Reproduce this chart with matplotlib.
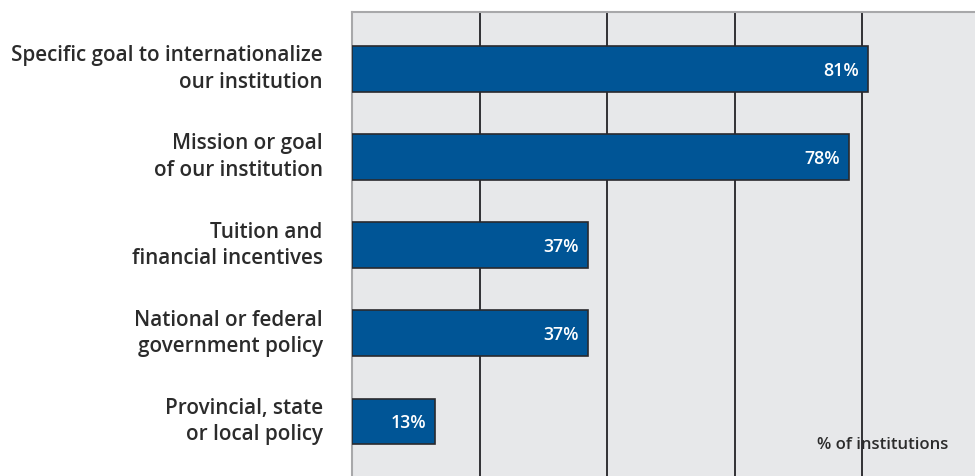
import matplotlib
matplotlib.use("Agg")
import matplotlib.pyplot as plt

categories = [
    "Specific goal to internationalize\nour institution",
    "Mission or goal\nof our institution",
    "Tuition and\nfinancial incentives",
    "National or federal\ngovernment policy",
    "Provincial, state\nor local policy",
]
values = [81, 78, 37, 37, 13]
value_labels = ["81%", "78%", "37%", "37%", "13%"]
grid_ticks = [20, 40, 60, 80]

fig = plt.figure(figsize=(9.75, 4.76), dpi=100)
ax = fig.add_axes([352/975, 0, 1 - 352/975, (476 - 12)/476])
ax.set_facecolor("#e7e8ea")

ypos = list(range(len(categories)))
ax.barh(ypos, values, height=0.52, color="#005596", edgecolor="#2a2a2e",
        linewidth=1.2, zorder=3)
for gx in grid_ticks:
    ax.axvline(gx, color="#222226", linewidth=1.3, zorder=2)

ax.set_xlim(0, 623/6.375)
ax.set_ylim(4.62, -0.65)
ax.set_xticks([])
ax.set_yticks([])
for s in ["right", "bottom"]:
    ax.spines[s].set_visible(False)
for s in ["left", "top"]:
    ax.spines[s].set_color("#a8a8aa")
    ax.spines[s].set_linewidth(1.5)

for y, v, lab in zip(ypos, values, value_labels):
    ax.text(v - 1.4, y + 0.02, lab, ha="right", va="center", color="white",
            fontsize=12.8, fontfamily="Open Sans", fontweight="semibold", zorder=4)

for y, cat in zip(ypos, categories):
    ax.text(-4.6, y, cat, ha="right", va="center", color="#2b2b2b",
            fontsize=14.9, fontfamily="Open Sans", fontweight="semibold",
            linespacing=1.35, clip_on=False)

ax.text(93.5, 4.27, "% of institutions", ha="right", va="center",
        color="#2b2b2b", fontsize=12, fontfamily="Open Sans", fontweight="semibold",
        zorder=5)

fig.savefig("out.png", dpi=100)
